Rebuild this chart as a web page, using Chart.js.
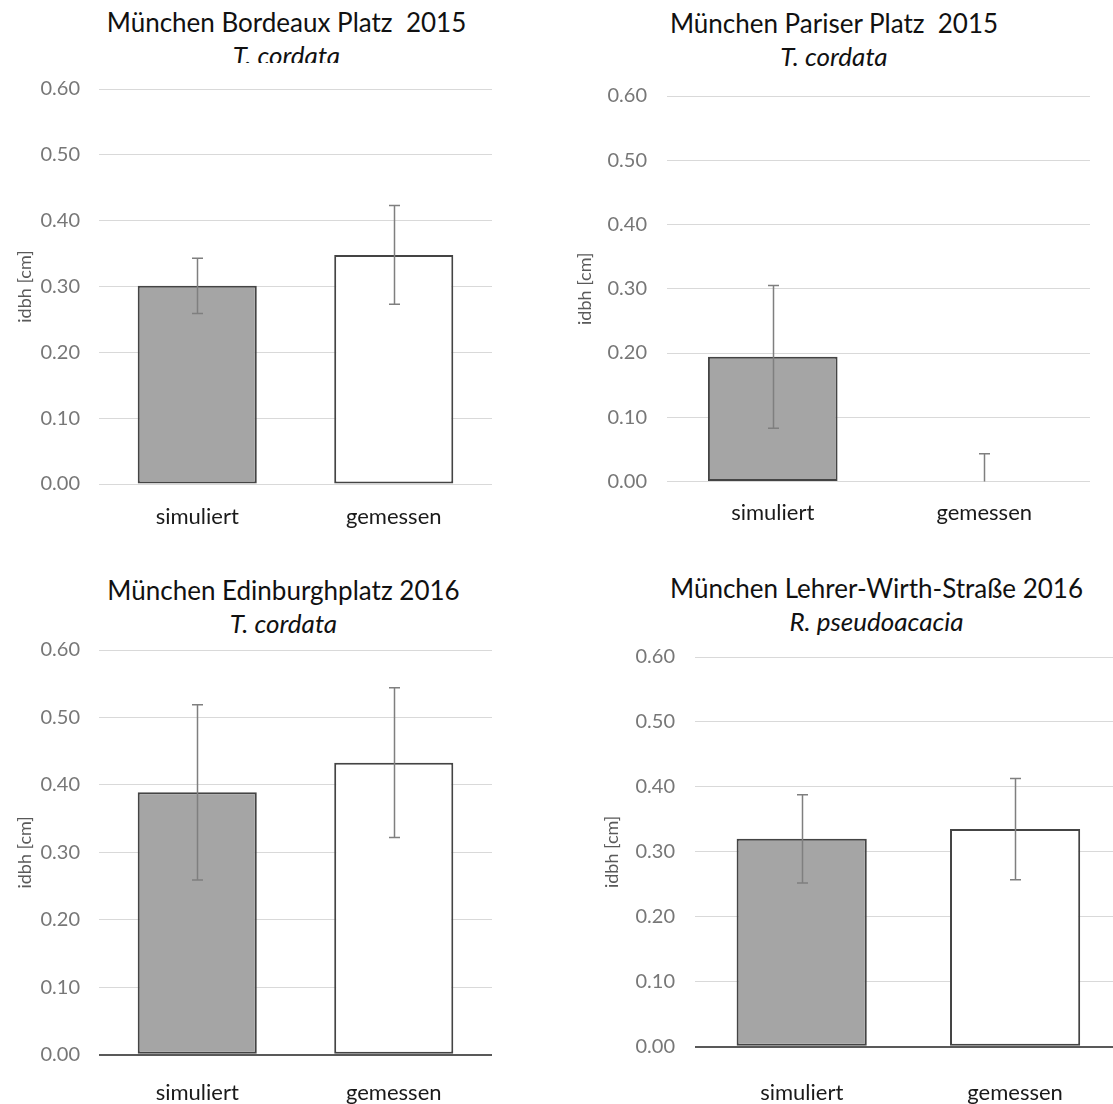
<!DOCTYPE html>
<html lang="de">
<head>
<meta charset="utf-8">
<title>idbh simuliert / gemessen</title>
<script src="https://cdn.jsdelivr.net/npm/chart.js@4.4.1/dist/chart.umd.min.js"></script>
<style>
  html, body { margin: 0; padding: 0; background: #fff; }
  body { position: relative; width: 1113px; height: 1104px; overflow: hidden; font-family: Lato, "Open Sans", sans-serif; }
  .title { position: absolute; width: 600px; text-align: center; font-size: 26px; line-height: 33px; color: #111; white-space: pre; overflow: hidden; }
  .title em { display: block; }
  canvas { position: absolute; }
</style>
</head>
<body>
<div class="title" id="t1"></div>
<div class="title" id="t2"></div>
<div class="title" id="t3"></div>
<div class="title" id="t4"></div>
<canvas id="c1"></canvas>
<canvas id="c2"></canvas>
<canvas id="c3"></canvas>
<canvas id="c4"></canvas>
<script>
const categories = ["simuliert", "gemessen"];
const yTicks = [0, 0.1, 0.2, 0.3, 0.4, 0.5, 0.6];
const yLabel = "idbh [cm]";

const siteTitles = [
  "München Bordeaux Platz  2015",
  "München Pariser Platz  2015",
  "München Edinburghplatz 2016",
  "München Lehrer-Wirth-Straße 2016"
];
const speciesNames = ["T. cordata", "T. cordata", "T. cordata", "R. pseudoacacia"];

// mean idbh and error (+/-) per category
const bordeauxMean = [0.301, 0.348];
const bordeauxErr = [0.042, 0.075];
const pariserMean = [0.194, 0.0];
const pariserErr = [0.111, 0.043];
const edinburghMean = [0.389, 0.433];
const edinburghErr = [0.130, 0.111];
const lehrerMean = [0.320, 0.335];
const lehrerErr = [0.068, 0.078];

const barColors = ["#a5a5a5", "#ffffff"];
const FONT = "Lato, 'Open Sans', sans-serif";

// where each panel sits on the page (chart.js keeps ~31px above the plot for the top tick label)
const panels = [
  { canvas: "c1", title: "t1", cx: 286.5, cy: 22.5, clipH: 57, left: 0, top: 58, w: 520, h: 487,
    padRight: 28, yAxisW: 99, xAxisH: 61, tickPad: 19, yTitlePad: 14.2, xPad: 19.6,
    barPct: 0.606, darkBase: false, mean: bordeauxMean, err: bordeauxErr },
  { canvas: "c2", title: "t2", cx: 834, cy: 23.6, clipH: 0, left: 560, top: 64, w: 540, h: 481,
    padRight: 10, yAxisW: 107, xAxisH: 63.5, tickPad: 20, yTitlePad: 14.2, xPad: 18.3,
    barPct: 0.613, darkBase: false, mean: pariserMean, err: pariserErr },
  { canvas: "c3", title: "t3", cx: 283.5, cy: 590.2, clipH: 0, left: 0, top: 619.3, w: 520, h: 484.7,
    padRight: 28, yAxisW: 99, xAxisH: 49.3, tickPad: 19, yTitlePad: 14.2, xPad: 25.4,
    barPct: 0.606, darkBase: true, mean: edinburghMean, err: edinburghErr },
  { canvas: "c4", title: "t4", cx: 876.5, cy: 588.6, clipH: 0, left: 560, top: 625, w: 570, h: 479,
    padRight: 8.2, yAxisW: 135, xAxisH: 57.3, tickPad: 20, yTitlePad: 41.2, xPad: 33,
    barPct: 0.61, darkBase: true, mean: lehrerMean, err: lehrerErr }
];

// whiskers with caps, clipped to the plot area
const errorBars = {
  id: "errorBars",
  afterDatasetsDraw(chart) {
    const { ctx, chartArea, scales: { y } } = chart;
    ctx.save();
    ctx.beginPath();
    ctx.rect(chartArea.left, chartArea.top, chartArea.right - chartArea.left, chartArea.bottom - chartArea.top);
    ctx.clip();
    ctx.strokeStyle = "#7f7f7f";
    ctx.lineWidth = 1.5;
    chart.data.datasets.forEach((ds, i) => {
      chart.getDatasetMeta(i).data.forEach((bar, j) => {
        const m = ds.data[j], e = ds.errors[j];
        const top = y.getPixelForValue(m + e);
        const bot = y.getPixelForValue(m - e);
        const x = Math.round(bar.x) + 0.5;
        ctx.beginPath();
        ctx.moveTo(x, top); ctx.lineTo(x, bot);
        ctx.moveTo(x - 5.5, top); ctx.lineTo(x + 5.5, top);
        ctx.moveTo(x - 5.5, bot); ctx.lineTo(x + 5.5, bot);
        ctx.stroke();
      });
    });
    ctx.restore();
  }
};

panels.forEach((p, k) => {
  const t = document.getElementById(p.title);
  t.style.left = (p.cx - 300) + "px";
  t.style.top = (p.cy - 16.5) + "px";
  if (p.clipH) t.style.height = p.clipH + "px";
  t.textContent = siteTitles[k];
  const em = document.createElement("em");
  em.textContent = speciesNames[k];
  t.appendChild(em);

  const canvas = document.getElementById(p.canvas);
  canvas.width = p.w;
  canvas.height = Math.round(p.h);
  canvas.style.left = p.left + "px";
  canvas.style.top = p.top + "px";

  new Chart(canvas, {
    type: "bar",
    data: {
      labels: categories,
      datasets: [{
        data: p.mean,
        errors: p.err,
        backgroundColor: barColors,
        borderColor: "#444444",
        borderWidth: 2,
        borderSkipped: false,
        barPercentage: p.barPct,
        categoryPercentage: 1
      }]
    },
    options: {
      responsive: false,
      animation: false,
      devicePixelRatio: 1,
      layout: { padding: { top: 0, right: p.padRight, left: 0, bottom: 0 } },
      plugins: { legend: { display: false }, tooltip: { enabled: false } },
      scales: {
        x: {
          grid: { display: false, drawTicks: false },
          border: { display: false },
          ticks: { padding: p.xPad, color: "#1a1a1a", font: { family: FONT, size: 22 } },
          afterFit: s => { s.height = p.xAxisH; }
        },
        y: {
          min: 0,
          max: 0.6,
          afterBuildTicks: s => { s.ticks = yTicks.map(v => ({ value: v })); },
          ticks: { padding: p.tickPad, color: "#777777", font: { family: FONT, size: 20 },
                   callback: v => Number(v).toFixed(2) },
          grid: {
            drawTicks: false,
            color: c => (p.darkBase && c.tick && c.tick.value === 0) ? "#595959" : "#d9d9d9",
            lineWidth: c => (p.darkBase && c.tick && c.tick.value === 0) ? 2 : 1
          },
          border: { display: false },
          title: { display: true, text: yLabel, color: "#595959", font: { family: FONT, size: 18 },
                   padding: { top: p.yTitlePad, bottom: 0 } },
          afterFit: s => { s.width = p.yAxisW; }
        }
      }
    },
    plugins: [errorBars]
  });
});
</script>
</body>
</html>
